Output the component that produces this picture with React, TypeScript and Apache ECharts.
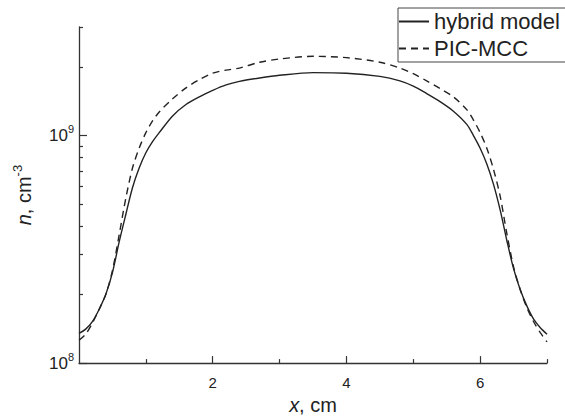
import React, { useEffect, useRef } from "react";
import * as echarts from "echarts";

const xValues = [0, 0.1, 0.2, 0.3, 0.4, 0.5, 0.6, 0.7, 0.8, 0.9, 1.0, 1.1, 1.2, 1.4, 1.6, 1.8, 2.0, 2.2, 2.4, 2.7, 3.0, 3.5, 4.0, 4.5, 4.8, 5.0, 5.2, 5.4, 5.6, 5.8, 5.9, 6.0, 6.1, 6.2, 6.3, 6.4, 6.5, 6.6, 6.7, 6.8, 6.9, 7.0];
const hybridModel = [1.35e8, 1.41e8, 1.52e8, 1.72e8, 2.0e8, 2.5e8, 3.4e8, 4.5e8, 5.9e8, 7.2e8, 8.4e8, 9.4e8, 1.03e9, 1.22e9, 1.37e9, 1.48e9, 1.58e9, 1.67e9, 1.73e9, 1.79e9, 1.84e9, 1.89e9, 1.88e9, 1.82e9, 1.74e9, 1.65e9, 1.53e9, 1.41e9, 1.28e9, 1.12e9, 1.0e9, 8.8e8, 7.5e8, 6.1e8, 4.7e8, 3.45e8, 2.6e8, 2.1e8, 1.78e8, 1.56e8, 1.43e8, 1.34e8];
const picMcc = [1.26e8, 1.34e8, 1.5e8, 1.72e8, 2.0e8, 2.55e8, 3.65e8, 5.3e8, 7.2e8, 8.8e8, 1.03e9, 1.16e9, 1.27e9, 1.45e9, 1.62e9, 1.76e9, 1.88e9, 1.94e9, 1.98e9, 2.1e9, 2.17e9, 2.23e9, 2.2e9, 2.1e9, 1.98e9, 1.87e9, 1.74e9, 1.61e9, 1.48e9, 1.3e9, 1.17e9, 1.03e9, 8.8e8, 7.1e8, 5.4e8, 3.7e8, 2.65e8, 2.1e8, 1.75e8, 1.52e8, 1.36e8, 1.24e8];

const xMajorTicks = [2, 4, 6];
const xMinorTicks = [1, 3, 5, 7];
const yMajorTicks = [1e8, 1e9];
const yMinorTicks = [2e8, 3e8, 4e8, 5e8, 6e8, 7e8, 8e8, 9e8, 2e9, 3e9];

const FONT = "Liberation Sans, Arial, sans-serif";
const INK = "#222";

export default function App() {
  const ref = useRef<HTMLDivElement>(null);
  useEffect(() => {
    if (!ref.current) return;
    const chart = echarts.init(ref.current, null, { renderer: "svg" });
    const axisLine = { show: true, lineStyle: { color: "#333", width: 1.3 } };
    const supLabel = (v: number) => {
      const e = Math.round(Math.log10(v));
      return `{m|10}{s|${e}}`;
    };
    const yRich = {
      m: { fontSize: 17, lineHeight: 24, fontFamily: FONT, color: INK },
      s: { fontSize: 11, lineHeight: 12, verticalAlign: "top", fontFamily: FONT, color: INK },
    };
    chart.setOption({
      animation: false,
      backgroundColor: "#fff",
      grid: { left: 79, right: 18, top: 27, bottom: 50 },
      legend: {
        orient: "vertical",
        left: 398,
        top: 8,
        padding: [1, 6, 1, 0],
        itemGap: 2,
        itemWidth: 30,
        itemHeight: 10,
        borderColor: "#444",
        borderWidth: 1,
        itemStyle: { color: "rgba(0,0,0,0)", borderWidth: 0 },
        textStyle: { fontSize: 22, fontFamily: FONT, color: INK, lineHeight: 25 },
        data: ["hybrid model", "PIC-MCC"],
      },
      xAxis: [
        {
          type: "value",
          min: 0,
          max: 7,
          interval: 1,
          axisLine,
          splitLine: { show: false },
          axisTick: { show: true, inside: true, length: 7, customValues: xMajorTicks, lineStyle: { color: "#333", width: 1.2 } },
          axisLabel: { customValues: xMajorTicks, fontSize: 15, fontFamily: FONT, color: INK, margin: 12 },
          name: "{i|x}{r|, cm}",
          nameLocation: "middle",
          nameGap: 31,
          nameTextStyle: {
            rich: {
              i: { fontSize: 20, fontStyle: "italic", fontFamily: FONT, color: INK },
              r: { fontSize: 20, fontFamily: FONT, color: INK },
            },
          },
        },
        {
          type: "value",
          min: 0,
          max: 7,
          interval: 1,
          position: "bottom",
          axisLine: { show: false },
          splitLine: { show: false },
          axisTick: { show: true, inside: true, length: 4, customValues: xMinorTicks, lineStyle: { color: "#333", width: 1.2 } },
          axisLabel: { show: false },
        },
      ],
      yAxis: [
        {
          type: "log",
          logBase: 10,
          min: 1e8,
          max: 3e9,
          axisLine,
          splitLine: { show: false },
          axisTick: { show: true, inside: true, length: 8, customValues: yMajorTicks, lineStyle: { color: "#333", width: 1.2 } },
          axisLabel: { customValues: yMajorTicks, formatter: supLabel, rich: yRich, margin: 5 },
          name: "{i|n}{r|, cm}{s|-3}",
          nameLocation: "middle",
          nameGap: 42,
          nameTextStyle: {
            rich: {
              i: { fontSize: 20, lineHeight: 26, fontStyle: "italic", fontFamily: FONT, color: INK },
              r: { fontSize: 20, lineHeight: 26, fontFamily: FONT, color: INK },
              s: { fontSize: 13, lineHeight: 14, verticalAlign: "top", fontFamily: FONT, color: INK },
            },
          },
        },
        {
          type: "log",
          logBase: 10,
          min: 1e8,
          max: 3e9,
          position: "left",
          axisLine: { show: false },
          splitLine: { show: false },
          axisTick: { show: true, inside: true, length: 4, customValues: yMinorTicks, lineStyle: { color: "#333", width: 1.2 } },
          axisLabel: { show: false },
        },
      ],
      series: [
        {
          name: "hybrid model",
          type: "line",
          smooth: 0.3,
          symbol: "none",
          lineStyle: { color: INK, width: 1.4, type: "solid" },
          itemStyle: { color: INK },
          data: xValues.map((x, i) => [x, hybridModel[i]]),
        },
        {
          name: "PIC-MCC",
          type: "line",
          smooth: 0.3,
          symbol: "none",
          lineStyle: { color: INK, width: 1.4, type: [7, 5] },
          itemStyle: { color: INK },
          data: xValues.map((x, i) => [x, picMcc[i]]),
        },
      ],
    });
    return () => chart.dispose();
  }, []);
  return <div ref={ref} style={{ position: "fixed", left: 0, top: 0, width: 565, height: 420 }} />;
}
